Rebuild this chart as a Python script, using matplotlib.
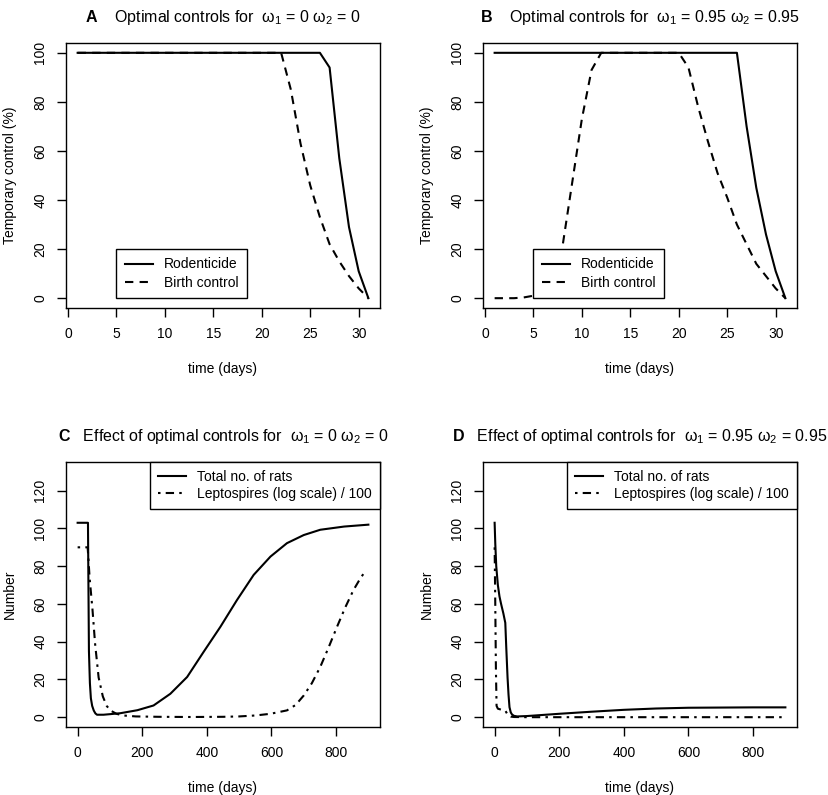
import matplotlib
matplotlib.use("Agg")
import matplotlib.pyplot as plt

plt.rcParams['font.family'] = ['Liberation Sans', 'DejaVu Sans']
plt.rcParams['font.size'] = 10
plt.rcParams['mathtext.fontset'] = 'custom'
plt.rcParams['mathtext.rm'] = 'Liberation Sans'
plt.rcParams['mathtext.it'] = 'Liberation Sans:italic'
plt.rcParams['mathtext.bf'] = 'Liberation Sans:bold'

# --- datos: controles optimos (dias 1..31) ---
days = list(range(1, 32))
rod_A = [100, 100, 100, 100, 100, 100, 100, 100, 100, 100, 100, 100, 100,
         100, 100, 100, 100, 100, 100, 100, 100, 100, 100, 100, 100, 100,
         94, 57, 29, 11, 0]
birth_A = [100, 100, 100, 100, 100, 100, 100, 100, 100, 100, 100, 100, 100,
           100, 100, 100, 100, 100, 100, 100, 100, 100,
           85, 63, 46, 33, 22, 15, 9, 4, 0]
rod_B = [100, 100, 100, 100, 100, 100, 100, 100, 100, 100, 100, 100, 100,
         100, 100, 100, 100, 100, 100, 100, 100, 100, 100, 100, 100, 100,
         70, 45, 26, 11, 0]
birth_B = [0, 0, 0, 0.3, 1, 3, 8, 21, 47, 73, 93,
           100, 100, 100, 100, 100, 100, 100, 100, 100,
           94, 78, 64, 51, 41, 30, 22, 14, 9, 4, 0]

# --- datos: efecto de los controles (dias 0..900) ---
t_rats_C = [0, 32, 33, 35, 38, 41, 45, 50, 55, 60, 80, 100, 132, 185, 235,
            287, 339, 390, 442, 493, 545, 597, 648, 700, 751, 825, 900]
rats_C = [103, 103, 80, 35, 18, 10, 6, 3.5, 2, 1.3, 1.3, 1.6, 2.1, 3.7, 6.2,
          12.4, 21.3, 34.6, 47.9, 62, 75.4, 85.1, 92.2, 96.5, 99.3, 101, 102]
t_lepto_C = [0, 31, 33, 37, 46, 54, 65, 78, 90, 101, 120, 141, 180, 250, 350,
             450, 500, 550, 597, 648, 675, 700, 725, 751, 777, 803, 828, 854,
             875, 893]
lepto_C = [90, 90, 85, 74, 57, 39, 21, 11, 6, 3.6, 1.8, 0.9, 0.4, 0.2, 0.1,
           0.2, 0.4, 0.9, 1.8, 3.6, 6.5, 11.5, 18, 26.6, 37, 47.9, 58, 67.4,
           73.5, 78]

t_rats_D = [0, 2, 5, 10, 15, 20, 27, 33, 36, 40, 43, 46, 50, 54, 60, 70,
            100, 150, 200, 300, 400, 500, 600, 700, 800, 900]
rats_D = [103, 92, 80, 70, 64, 60, 55, 50, 37, 21, 12, 5.3, 2.5, 1.4, 0.7,
          0.4, 0.6, 1.2, 1.8, 2.9, 3.9, 4.6, 5.0, 5.1, 5.2, 5.2]
t_lepto_D = [0, 2, 4, 6, 10, 20, 33, 38, 43, 50, 60, 100, 900]
lepto_D = [90, 60, 25, 6, 4.5, 4, 3.5, 2, 0.8, 0.3, 0.1, 0, 0]

titles = [r"$\mathbf{A}$    Optimal controls for  ω$_1$ = 0 ω$_2$ = 0",
          r"$\mathbf{B}$    Optimal controls for  ω$_1$ = 0.95 ω$_2$ = 0.95",
          r"$\mathbf{C}$   Effect of optimal controls for  ω$_1$ = 0 ω$_2$ = 0",
          r"$\mathbf{D}$   Effect of optimal controls for  ω$_1$ = 0.95 ω$_2$ = 0.95"]

dashed = (0, (4, 3))
dotdash = (0, (1.2, 2.5, 4, 2.5))

fig = plt.figure(figsize=(8.29, 7.95), dpi=100)
W, H = 829, 795
boxes = [(66, 43), (483, 43), (66, 462), (483, 462)]
axs = []
for (x0, y0) in boxes:
    ax = fig.add_axes([x0 / W, 1 - (y0 + 265) / H, 314 / W, 265 / H])
    axs.append(ax)


def style(ax, title, ylabel):
    ax.set_title(title, fontsize=11.5, pad=15)
    ax.set_xlabel('time (days)', labelpad=15.5)
    ax.set_ylabel(ylabel, labelpad=12)
    ax.tick_params(direction='out', length=6.5, width=1, pad=7,
                   labelsize=10)
    ax.tick_params(axis='y', labelrotation=90)
    plt.setp(ax.get_yticklabels(), va='center')
    for s in ax.spines.values():
        s.set_linewidth(1)


# paneles A y B
for ax, rod, birth, title in [(axs[0], rod_A, birth_A, titles[0]),
                              (axs[1], rod_B, birth_B, titles[1])]:
    ax.plot(days, rod, color='black', lw=1.5, label='Rodenticide')
    ax.plot(days, birth, color='black', lw=1.5, linestyle=dashed,
            label='Birth control')
    ax.set_xlim(-0.2, 32.2)
    ax.set_ylim(-4, 104)
    ax.set_xticks([0, 5, 10, 15, 20, 25, 30])
    ax.set_yticks([0, 20, 40, 60, 80, 100])
    leg = ax.legend(loc='upper left', bbox_to_anchor=(5, 20),
                    bbox_transform=ax.transData, borderaxespad=0,
                    fancybox=False, edgecolor='black', framealpha=1,
                    handlelength=2.0, labelspacing=0.3, borderpad=0.6)
    leg.get_frame().set_linewidth(1)
    style(ax, title, 'Temporary control (%)')

# paneles C y D
for ax, tr, r, tl, l, title in [
        (axs[2], t_rats_C, rats_C, t_lepto_C, lepto_C, titles[2]),
        (axs[3], t_rats_D, rats_D, t_lepto_D, lepto_D, titles[3])]:
    ax.plot(tr, r, color='black', lw=1.5, label='Total no. of rats')
    ax.plot(tl, l, color='black', lw=1.5, linestyle=dotdash,
            label='Leptospires (log scale) / 100')
    ax.set_xlim(-36, 936)
    ax.set_ylim(-5.2, 135.2)
    ax.set_xticks([0, 200, 400, 600, 800])
    ax.set_yticks([0, 20, 40, 60, 80, 100, 120])
    leg = ax.legend(loc='upper right', borderaxespad=0, fancybox=False,
                    edgecolor='black', framealpha=1, handlelength=2.0,
                    labelspacing=0.2, borderpad=0.6)
    leg.get_frame().set_linewidth(1)
    style(ax, title, 'Number')

fig.savefig('out.png', dpi=100)
